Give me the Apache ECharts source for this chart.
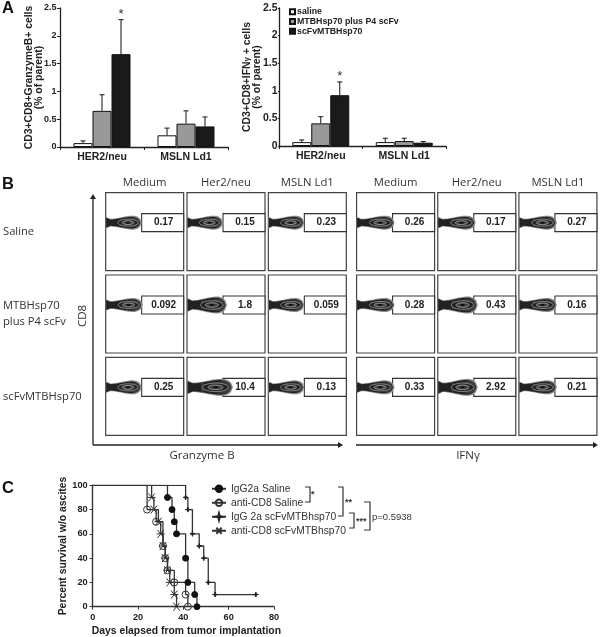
<!DOCTYPE html>
<html>
<head>
<meta charset="utf-8">
<style>
  html, body { margin: 0; padding: 0; background: #fff; }
  #chart { width: 600px; height: 637px; }
</style>
<script src="https://cdn.jsdelivr.net/npm/echarts@6/dist/echarts.min.js"></script>
</head>
<body>
<div id="chart"></div>
<script>
// panel A
const antigens = ['HER2/neu', 'MSLN Ld1']
const groupNames = ['saline', 'MTBHsp70 plus P4 scFv', 'scFvMTBHsp70']
const groupColors = ['#ffffff', '#999999', '#1a1a1a']
const gzMeans = [[0.07, 0.21], [0.65, 0.42], [1.67, 0.37]]
const gzTops = [[0.11, 0.34], [0.94, 0.65], [2.29, 0.54]]
const ifnMeans = [[0.07, 0.07], [0.41, 0.09], [0.92, 0.06]]
const ifnTops = [[0.11, 0.14], [0.53, 0.14], [1.16, 0.08]]

// panel B
const stimuli = ['Medium', 'Her2/neu', 'MSLN Ld1']
const treatments = ['Saline', 'MTBHsp70\nplus P4 scFv', 'scFvMTBHsp70']
const gzLabels = ['0.17', '0.15', '0.23', '0.092', '1.8', '0.059', '0.25', '10.4', '0.13']
const ifnLabels = ['0.26', '0.17', '0.27', '0.28', '0.43', '0.16', '0.33', '2.92', '0.21']
const gzReach = [36, 36, 36, 37, 40, 36, 36, 46, 36]
const ifnReach = [38, 38, 38, 38, 40, 38, 38, 40, 38]

// panel C
const survivalNames = ['IgG2a Saline', 'anti-CD8 Saline', 'IgG 2a scFvMTBhsp70', 'anti-CD8 scFvMTBhsp70']
const igSalineDays = [0, 33, 35, 36, 37, 41, 42, 45, 46]
const igSalinePct = [100, 90, 80, 70, 60, 40, 20, 10, 0]
const cd8SalineDays = [0, 24, 28, 31, 32, 33, 36, 41, 42]
const cd8SalinePct = [100, 80, 70, 50, 40, 30, 20, 10, 0]
const igScfvDays = [0, 41, 42, 44, 47, 49, 51, 54, 72]
const igScfvPct = [100, 90, 80, 60, 50, 40, 20, 10, 10]
const cd8ScfvDays = [0, 26, 27, 29, 30, 31, 32, 33, 34, 36, 37]
const cd8ScfvPct = [100, 90, 80, 70, 60, 50, 40, 30, 20, 10, 0]

const BAR_W = 19
const ARIAL = 'Liberation Sans'
const SOFT = 'Open Sans'
const INK = '#222'

const myChart = echarts.init(document.getElementById('chart'))

function barAxisX(gridIndex) {
  return {
    type: 'category', gridIndex, data: antigens,
    axisLine: { lineStyle: { color: INK, width: 1.3 } },
    axisTick: { show: true, length: 3, alignWithLabel: false, lineStyle: { color: INK } },
    axisLabel: { interval: 0, margin: 5, color: INK, fontFamily: ARIAL, fontWeight: 'bold', fontSize: 10.5 }
  }
}

function barAxisY(gridIndex, name, gap, labelSize, labelMargin, tickLen) {
  return {
    type: 'value', gridIndex, min: 0, max: 2.5, interval: 0.5,
    name, nameLocation: 'middle', nameRotate: 90, nameGap: gap, nameMoveOverlap: false,
    nameTextStyle: {
      color: INK, fontFamily: ARIAL, fontWeight: 'bold', fontSize: 10.4, lineHeight: 10,
      rich: { g: { fontFamily: ARIAL, fontSize: 8, fontWeight: 'bold', color: INK } }
    },
    splitLine: { show: false },
    axisLine: { show: true, lineStyle: { color: INK, width: 1.3 } },
    axisTick: { show: true, length: tickLen, lineStyle: { color: INK } },
    axisLabel: { margin: labelMargin, color: INK, fontFamily: ARIAL, fontWeight: 'bold', fontSize: labelSize }
  }
}

function barSeries(axisIndex, means) {
  return means.map((vals, i) => ({
    type: 'bar', name: groupNames[i], xAxisIndex: axisIndex, yAxisIndex: axisIndex,
    data: vals, barWidth: BAR_W, barGap: 0,
    itemStyle: { color: groupColors[i], borderColor: '#111', borderWidth: 1 }
  }))
}

// error bars and the significance star sit on top of the bars
function errorSeries(axisIndex, tops, starGroup) {
  const rows = []
  tops.forEach((vals, g) => vals.forEach((top, c) => rows.push([c, top, g])))
  return {
    type: 'custom', xAxisIndex: axisIndex, yAxisIndex: axisIndex, data: rows, z: 3,
    renderItem(params, api) {
      const c = api.value(0)
      const top = api.value(1)
      const g = api.value(2)
      const means = axisIndex === 0 ? gzMeans : ifnMeans
      const from = api.coord([c, means[g][c]])
      const to = api.coord([c, top])
      const x = from[0] + (g - 1) * BAR_W
      const style = { stroke: '#111', lineWidth: 1 }
      const kids = [
        { type: 'line', shape: { x1: x, y1: from[1], x2: x, y2: to[1] }, style },
        { type: 'line', shape: { x1: x - 2.5, y1: to[1], x2: x + 2.5, y2: to[1] }, style }
      ]
      if (c === 0 && g === starGroup) {
        kids.push({
          type: 'text',
          style: { x, y: to[1] - 12, text: '*', fill: '#333', font: '13px ' + ARIAL, align: 'center', verticalAlign: 'top' }
        })
      }
      return { type: 'group', children: kids }
    }
  }
}

// half height of the contour blob along its length (t 0..1)
function blobHalf(t, h) {
  if (t < 0.12) return h * (0.85 - 0.3 * t / 0.12)
  if (t < 0.75) {
    const s = (t - 0.12) / 0.63
    return h * (0.55 + 0.45 * s * s * (3 - 2 * s))
  }
  return h * Math.sqrt(Math.max(0, 1 - Math.pow((t - 0.75) / 0.25, 2)))
}

function blobPoints(x, y, len, h) {
  const up = []
  const down = []
  for (let i = 0; i <= 24; i++) {
    const t = i / 24
    up.push([x + t * len, y - blobHalf(t, h)])
    down.unshift([x + t * len, y + blobHalf(t, h)])
  }
  return up.concat(down)
}

function panelSeries(axisIndex, labels, reach) {
  const rows = []
  labels.forEach((l, i) => rows.push([i % 3, Math.floor(i / 3)]))
  return {
    type: 'custom', xAxisIndex: axisIndex, yAxisIndex: axisIndex, data: rows, silent: true,
    renderItem(params, api) {
      const i = params.dataIndex
      const c = api.coord([api.value(0), api.value(1)])
      const left = c[0] - 39
      const top = c[1] - 39
      const midY = c[1] - 9
      const len = reach[i]
      const h = len > 39 ? 8.5 : 7
      const rx = len * 0.28
      const fx = left + len * 0.62
      const kids = [
        { type: 'rect', shape: { x: left, y: top, width: 78, height: 78 }, style: { fill: '#fff', stroke: '#444', lineWidth: 1.2 } },
        { type: 'rect', shape: { x: c[0] - 3, y: midY - 9, width: 42, height: 18 }, style: { fill: '#fff', stroke: '#333', lineWidth: 1.1 } },
        { type: 'polygon', shape: { points: blobPoints(left, midY, len, h) }, style: { fill: '#8a8a8a' } },
        { type: 'polygon', shape: { points: blobPoints(left + 0.5, midY, len - 2, h - 1.2) }, style: { fill: '#222' } },
        { type: 'polygon', shape: { points: blobPoints(left + 14, midY, len - 16, h - 2.4) }, style: { fill: '#3c3c3c' } },
        { type: 'ellipse', shape: { cx: fx, cy: midY, rx, ry: h * 0.5 }, style: { fill: '#222', stroke: '#aaa', lineWidth: 0.7 } },
        { type: 'ellipse', shape: { cx: fx, cy: midY, rx: rx * 0.58, ry: h * 0.27 }, style: { fill: '#444', stroke: '#bbb', lineWidth: 0.7 } },
        { type: 'ellipse', shape: { cx: fx, cy: midY, rx: rx * 0.22, ry: 1 }, style: { fill: '#111' } },
        {
          type: 'text',
          style: { x: c[0] + 19, y: midY, text: labels[i], fill: '#222', font: 'bold 10px ' + ARIAL, align: 'center', verticalAlign: 'middle' }
        }
      ]
      return { type: 'group', children: kids }
    }
  }
}

function survivalSeries(i, days, pct, symbol, size, fill, stroke) {
  return {
    type: 'line', name: survivalNames[i], xAxisIndex: 4, yAxisIndex: 4, step: 'end',
    data: days.map((d, k) => [d, pct[k]]),
    symbol, symbolSize: (v, p) => (p.dataIndex === 0 ? 0 : size),
    showAllSymbol: true,
    lineStyle: { color: '#333', width: 1.3 },
    itemStyle: { color: fill, borderColor: stroke, borderWidth: 1 }
  }
}

function arrow(x1, y1, x2, y2) {
  const dx = Math.sign(x2 - x1)
  const dy = Math.sign(y2 - y1)
  return [
    { type: 'line', shape: { x1, y1, x2: x2 - dx * 3, y2: y2 - dy * 3 }, style: { stroke: '#222', lineWidth: 1.3 } },
    {
      type: 'polygon',
      shape: { points: [[x2, y2], [x2 - dx * 5 + dy * 3, y2 - dy * 5 + dx * 3], [x2 - dx * 5 - dy * 3, y2 - dy * 5 - dx * 3]] },
      style: { fill: '#222' }
    }
  ]
}

function bracket(x1, x2, y1, y2) {
  return {
    type: 'polyline',
    shape: { points: [[x1, y1], [x2, y1], [x2, y2], [x1, y2]] },
    style: { stroke: '#333', lineWidth: 1.2, fill: 'none' }
  }
}

function note(x, y, text, font, extra) {
  return Object.assign({
    type: 'text', x, y,
    style: Object.assign({ text, font, fill: '#333', align: 'left', verticalAlign: 'middle' }, extra && extra.style)
  }, extra && extra.el)
}

const plainAxisCat = (gridIndex, data, extra) => Object.assign({
  type: 'category', gridIndex, data, axisLine: { show: false }, axisTick: { show: false }, splitLine: { show: false }
}, extra)

const topLabels = { interval: 0, margin: 2, color: '#333', fontFamily: SOFT, fontSize: 11.3 }

const option = {
  animation: false,
  backgroundColor: '#fff',
  grid: [
    { left: 60, top: 8, width: 168, height: 139 },
    { left: 279, top: 8, width: 167, height: 138 },
    { left: 103, top: 190.5, width: 245, height: 247 },
    { left: 355, top: 190.5, width: 243.5, height: 247 },
    { left: 92.7, top: 485.3, width: 181.3, height: 121.4 }
  ],
  legend: [
    {
      left: 289, top: 7, padding: 0, orient: 'vertical', itemWidth: 5, itemHeight: 5, itemGap: 0, icon: 'rect',
      data: groupNames, selectedMode: false,
      textStyle: { color: INK, fontFamily: ARIAL, fontWeight: 'bold', fontSize: 8.8, lineHeight: 9.7, padding: [0, 0, 0, -3] }
    },
    {
      left: 211, top: 482, padding: 0, orient: 'vertical', itemWidth: 14, itemHeight: 8, itemGap: 0.5,
      data: survivalNames, selectedMode: false,
      textStyle: { color: '#333', fontFamily: ARIAL, fontSize: 10.3, lineHeight: 13.5 }
    }
  ],
  xAxis: [
    barAxisX(0),
    barAxisX(1),
    plainAxisCat(2, stimuli, { position: 'top', axisLabel: topLabels }),
    plainAxisCat(3, stimuli, { position: 'top', axisLabel: topLabels }),
    {
      type: 'value', gridIndex: 4, min: 0, max: 80, interval: 20,
      name: 'Days elapsed from tumor implantation', nameLocation: 'middle', nameGap: 19, nameMoveOverlap: false,
      nameTextStyle: { color: INK, fontFamily: ARIAL, fontWeight: 'bold', fontSize: 10.4, padding: [0, 0, 0, 6] },
      splitLine: { show: false },
      axisLine: { lineStyle: { color: '#333', width: 1.4 } },
      axisTick: { length: 3, lineStyle: { color: '#333' } },
      axisLabel: { margin: 6, color: INK, fontFamily: ARIAL, fontWeight: 'bold', fontSize: 9.2 }
    }
  ],
  yAxis: [
    barAxisY(0, 'CD3+CD8+GranzymeB+ cells\n(% of parent)', 16, 9, 3.5, 3),
    barAxisY(1, 'CD3+CD8+IFN{g|γ} + cells\n(% of parent)', 17, 10.5, 1.5, 1),
    plainAxisCat(2, treatments, {
      inverse: true,
      axisLabel: { interval: 0, align: 'left', margin: 101, color: '#333', fontFamily: SOFT, fontSize: 11.2, lineHeight: 16 }
    }),
    plainAxisCat(3, treatments, { inverse: true, axisLabel: { show: false } }),
    {
      type: 'value', gridIndex: 4, min: 0, max: 100, interval: 20,
      name: 'Percent survival w/o ascites', nameLocation: 'middle', nameRotate: 90, nameGap: 25, nameMoveOverlap: false,
      nameTextStyle: { color: INK, fontFamily: ARIAL, fontWeight: 'bold', fontSize: 10.4 },
      splitLine: { show: false },
      axisLine: { show: true, lineStyle: { color: '#333', width: 1.4 } },
      axisTick: { show: true, length: 3, lineStyle: { color: '#333' } },
      axisLabel: { margin: 5, color: INK, fontFamily: ARIAL, fontWeight: 'bold', fontSize: 9.2 }
    }
  ],
  series: [
    ...barSeries(0, gzMeans),
    errorSeries(0, gzTops, 2),
    ...barSeries(1, ifnMeans),
    errorSeries(1, ifnTops, 2),
    panelSeries(2, gzLabels, gzReach),
    panelSeries(3, ifnLabels, ifnReach),
    survivalSeries(0, igSalineDays, igSalinePct, 'circle', 6, '#111', '#111'),
    survivalSeries(1, cd8SalineDays, cd8SalinePct, 'circle', 7, 'rgba(255,255,255,0)', '#333'),
    survivalSeries(2, igScfvDays, igScfvPct, 'path://M0,5 L4,4 L5,0 L6,4 L10,5 L6,6 L5,10 L4,6 Z', 5, '#222', '#222'),
    survivalSeries(3, cd8ScfvDays, cd8ScfvPct, 'path://M1,1 L9,9 M9,1 L1,9 M0,5 L10,5', 8, 'none', '#333')
  ],
  graphic: {
    elements: [
      note(2, 8, 'A', 'bold 16.5px ' + ARIAL, { style: { fill: '#111' } }),
      note(2, 184, 'B', 'bold 16.5px ' + ARIAL, { style: { fill: '#111' } }),
      note(2, 488, 'C', 'bold 16.5px ' + ARIAL, { style: { fill: '#111' } }),
      ...arrow(93, 445, 93, 194),
      ...arrow(93, 445, 343, 445),
      ...arrow(356, 445, 598, 445),
      note(202, 456, 'Granzyme B', '11.5px ' + SOFT, { style: { align: 'center' } }),
      note(468, 456, 'IFNγ', '11.5px ' + SOFT, { style: { align: 'center' } }),
      note(83, 316, 'CD8', '11.5px ' + SOFT, { style: { align: 'center' }, el: { rotation: Math.PI / 2 } }),
      bracket(305, 310, 487, 502),
      bracket(338, 343, 487, 516),
      bracket(349, 354, 513, 528),
      bracket(364, 370, 502, 530),
      note(311, 495, '*', 'bold 9px ' + ARIAL),
      note(345, 503, '**', 'bold 9px ' + ARIAL),
      note(356, 522, '***', 'bold 9px ' + ARIAL),
      note(372, 517, 'p=0.5938', '9.5px ' + ARIAL)
    ]
  }
}

myChart.setOption(option)
</script>
</body>
</html>
